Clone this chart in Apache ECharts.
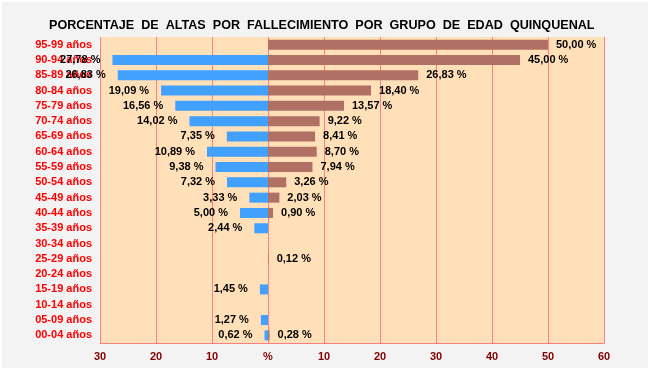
<!DOCTYPE html>
<html>
<head>
<meta charset="utf-8">
<script src="https://cdn.jsdelivr.net/npm/echarts@6/dist/echarts.min.js"></script>
<style>
  html, body { margin: 0; padding: 0; background: #ffffff; }
  #chart { width: 646px; height: 366px; margin: 2px 0 0 2px; }
</style>
</head>
<body>
<div id="chart"></div>
<script>
// grupos de edad, de arriba a abajo
var grupos = ['95-99 años', '90-94 años', '85-89 años', '80-84 años', '75-79 años',
  '70-74 años', '65-69 años', '60-64 años', '55-59 años', '50-54 años',
  '45-49 años', '40-44 años', '35-39 años', '30-34 años', '25-29 años',
  '20-24 años', '15-19 años', '10-14 años', '05-09 años', '00-04 años'];
// barras azules (hacia la izquierda)
var azul = ['-', 27.78, 26.83, 19.09, 16.56, 14.02, 7.35, 10.89, 9.38, 7.32,
  3.33, 5.00, 2.44, '-', '-', '-', 1.45, '-', 1.27, 0.62];
// barras marrones (hacia la derecha)
var marron = [50.00, 45.00, 26.83, 18.40, 13.57, 9.22, 8.41, 8.70, 7.94, 3.26,
  2.03, 0.90, '-', '-', 0.12, '-', '-', '-', '-', 0.28];
var ejeMin = -30, ejeMax = 60, ejeIntervalo = 10;

var titulo = 'PORCENTAJE DE ALTAS POR FALLECIMIENTO POR GRUPO DE EDAD QUINQUENAL';

function fmt(v) {
  return Math.abs(v).toFixed(2).replace('.', ',') + ' %';
}

var chart = echarts.init(document.getElementById('chart'));
var option = {
  backgroundColor: '#f3f3f3',
  animation: false,
  title: {
    // espacios dobles para imitar el espaciado ancho del original
    text: titulo.split(' ').join('  '),
    left: 42,
    top: 12,
    textStyle: {
      fontFamily: 'Liberation Sans',
      fontSize: 12.6,
      fontWeight: 'bold',
      color: '#000'
    }
  },
  grid: {
    left: 98,
    right: 44,
    top: 35,
    bottom: 25,
    show: true,
    backgroundColor: '#ffe0b8',
    borderWidth: 0
  },
  xAxis: {
    type: 'value',
    min: ejeMin,
    max: ejeMax,
    interval: ejeIntervalo,
    axisLine: { show: true, lineStyle: { color: '#ff8080', width: 1 } },
    axisTick: { show: false },
    splitLine: { show: true, lineStyle: { color: '#ff8080', width: 1 } },
    axisLabel: {
      margin: 8,
      color: '#800000',
      fontFamily: 'Liberation Sans',
      fontSize: 11,
      fontWeight: 'bold',
      formatter: function (v) { return v === 0 ? '%' : String(Math.abs(v)); }
    }
  },
  yAxis: {
    type: 'category',
    inverse: true,
    data: grupos,
    axisLine: { show: false },
    axisTick: { show: false },
    splitLine: { show: false },
    axisLabel: {
      margin: 8,
      color: '#ff0000',
      fontFamily: 'Liberation Sans',
      fontSize: 11,
      fontWeight: 'bold'
    }
  },
  series: [
    {
      type: 'bar',
      data: azul.map(function (v) { return v === '-' ? '-' : -v; }),
      barWidth: 10,
      barGap: '-100%',
      itemStyle: { color: '#42a0ff' },
      label: {
        show: true,
        position: 'left',
        distance: 12,
        color: '#000',
        fontFamily: 'Liberation Sans',
        fontSize: 11,
        fontWeight: 'bold',
        formatter: function (p) { return fmt(p.value); }
      }
    },
    {
      type: 'bar',
      data: marron,
      barWidth: 10,
      barGap: '-100%',
      itemStyle: { color: '#b07064' },
      label: {
        show: true,
        position: 'right',
        distance: 8,
        color: '#000',
        fontFamily: 'Liberation Sans',
        fontSize: 11,
        fontWeight: 'bold',
        formatter: function (p) { return fmt(p.value); }
      }
    }
  ]
};
chart.setOption(option);
</script>
</body>
</html>
